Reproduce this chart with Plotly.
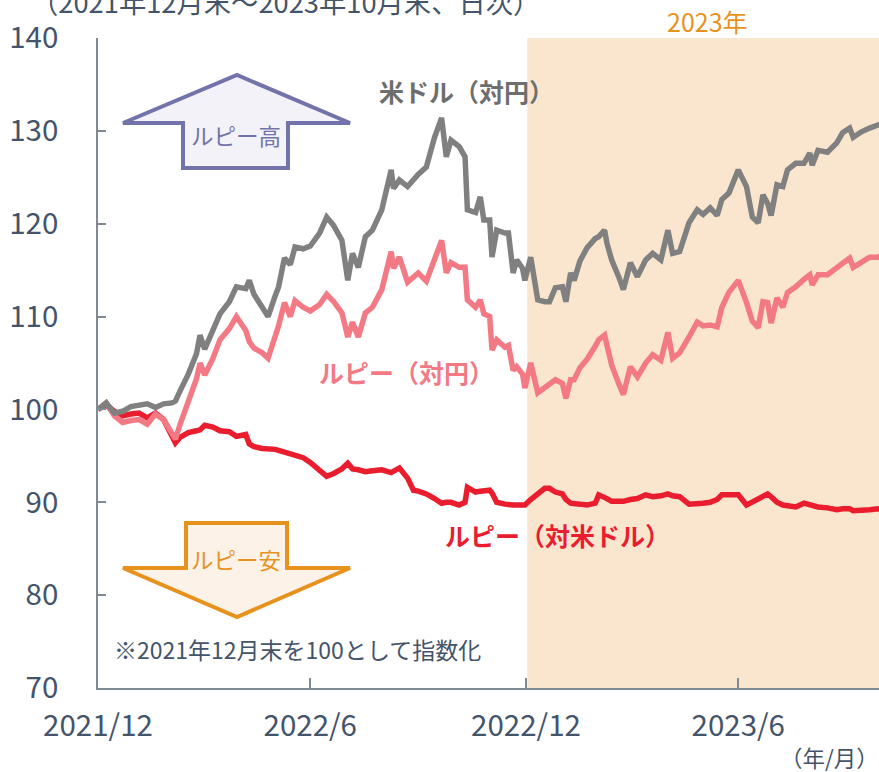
import plotly.graph_objects as go

dates = [
    "2021-12-31", "2022-01-07", "2022-01-14", "2022-01-21", "2022-01-28", "2022-02-04", "2022-02-11",
    "2022-02-18", "2022-02-25", "2022-03-04", "2022-03-07", "2022-03-11", "2022-03-18", "2022-03-25",
    "2022-03-28", "2022-04-01", "2022-04-08", "2022-04-14", "2022-04-22", "2022-04-28", "2022-05-06",
    "2022-05-09", "2022-05-13", "2022-05-20", "2022-05-25", "2022-05-31", "2022-06-03", "2022-06-08",
    "2022-06-13", "2022-06-17", "2022-06-24", "2022-06-30", "2022-07-08", "2022-07-14", "2022-07-20",
    "2022-07-27", "2022-08-01", "2022-08-05", "2022-08-10", "2022-08-16", "2022-08-22", "2022-08-30",
    "2022-09-07", "2022-09-09", "2022-09-14", "2022-09-21", "2022-09-26", "2022-09-30", "2022-10-07",
    "2022-10-14", "2022-10-20", "2022-10-24", "2022-10-28", "2022-11-04", "2022-11-09", "2022-11-11",
    "2022-11-18", "2022-11-22", "2022-11-25", "2022-11-30", "2022-12-02", "2022-12-06", "2022-12-13",
    "2022-12-16", "2022-12-20", "2022-12-23", "2022-12-28", "2022-12-30", "2023-01-04", "2023-01-10",
    "2023-01-16", "2023-01-20", "2023-01-25", "2023-01-31", "2023-02-03", "2023-02-07", "2023-02-10",
    "2023-02-15", "2023-02-21", "2023-02-28", "2023-03-03", "2023-03-08", "2023-03-10", "2023-03-14",
    "2023-03-20", "2023-03-24", "2023-03-30", "2023-04-05", "2023-04-12", "2023-04-18", "2023-04-25",
    "2023-05-01", "2023-05-05", "2023-05-11", "2023-05-19", "2023-05-26", "2023-05-31", "2023-06-06",
    "2023-06-12", "2023-06-16", "2023-06-22", "2023-06-27", "2023-06-30", "2023-07-07", "2023-07-12",
    "2023-07-17", "2023-07-21", "2023-07-25", "2023-07-28", "2023-08-02", "2023-08-07", "2023-08-11",
    "2023-08-18", "2023-08-25", "2023-08-30", "2023-09-01", "2023-09-06", "2023-09-14", "2023-09-22",
    "2023-09-27", "2023-10-03", "2023-10-06", "2023-10-13", "2023-10-20", "2023-10-27", "2023-10-31",
]

usd_jpy = [
    100.0, 100.7, 99.6, 99.8, 100.3, 100.5, 100.6, 100.2, 100.6, 100.7, 100.9, 102.0, 103.8, 106.0,
    108.0, 106.5, 108.6, 110.3, 111.6, 113.2, 113.0, 113.9, 112.4, 111.0, 110.0, 112.2, 113.2, 116.3,
    115.6, 117.5, 117.3, 117.6, 119.0, 120.7, 119.8, 118.2, 113.9, 116.8, 115.3, 118.6, 119.3, 121.5,
    125.8, 123.8, 124.7, 124.0, 124.8, 125.3, 126.1, 129.3, 131.4, 127.2, 129.0, 128.3, 127.2, 121.5,
    121.2, 122.9, 120.4, 120.4, 116.4, 119.3, 119.0, 119.0, 114.7, 116.1, 115.2, 113.9, 116.4, 111.8,
    111.6, 111.6, 113.1, 113.2, 111.6, 114.7, 113.9, 116.0, 117.4, 118.4, 118.6, 119.3, 117.9, 116.1,
    114.3, 112.9, 115.8, 114.3, 116.1, 116.8, 116.1, 119.3, 116.8, 117.0, 120.1, 121.5, 121.0, 121.7,
    120.9, 122.6, 123.3, 124.8, 125.8, 124.0, 120.7, 120.1, 123.1, 122.2, 120.9, 124.2, 124.0, 125.8,
    126.5, 126.5, 127.6, 126.3, 127.9, 127.7, 128.7, 129.8, 130.3, 129.3, 129.9, 130.3, 130.6, 130.8,
]

inr_jpy = [
    100.0, 100.7, 99.3, 98.6, 98.8, 98.9, 98.4, 99.5, 98.9, 97.5, 96.8, 98.4, 101.0, 103.3,
    105.0, 103.7, 105.5, 107.5, 108.7, 110.0, 108.5, 107.3, 106.6, 106.1, 105.5, 107.8, 109.0, 111.5,
    110.0, 111.7, 111.0, 110.6, 111.3, 112.4, 111.6, 110.4, 107.8, 109.4, 107.8, 110.4, 111.0, 112.9,
    117.0, 115.2, 116.4, 113.7, 114.2, 114.7, 113.8, 116.1, 118.2, 114.7, 115.8, 115.3, 115.3, 111.8,
    111.0, 111.8, 110.3, 110.0, 106.4, 107.5, 106.7, 106.9, 104.2, 104.6, 103.8, 102.3, 105.0, 101.8,
    102.4, 102.8, 103.2, 102.8, 101.2, 103.2, 103.2, 104.5, 105.4, 106.8, 107.5, 108.0, 106.8, 104.8,
    102.8, 101.6, 104.6, 103.5, 105.0, 105.9, 105.3, 108.3, 105.5, 106.1, 107.8, 109.4, 109.0, 109.1,
    108.9, 111.0, 112.6, 113.3, 113.9, 111.5, 109.5, 108.8, 111.6, 111.5, 109.3, 112.0, 111.0, 112.6,
    113.2, 114.0, 114.5, 113.4, 114.5, 114.5, 115.3, 115.8, 116.3, 115.3, 115.9, 116.4, 116.4, 116.6,
]

inr_usd = [
    100.0, 100.5, 99.8, 99.3, 99.5, 99.6, 99.1, 99.6, 98.9, 97.3, 96.4, 97.0, 97.5, 97.7,
    97.8, 98.3, 98.1, 97.7, 97.6, 97.1, 97.3, 96.3, 96.0, 95.8, 95.8, 95.7, 95.6, 95.4,
    95.2, 95.0, 94.8, 94.3, 93.5, 92.8, 93.1, 93.6, 94.2, 93.6, 93.5, 93.3, 93.4, 93.5,
    93.2, 93.3, 93.7, 92.6, 91.3, 91.2, 90.9, 90.4, 89.9, 90.0, 90.0, 89.7, 90.0, 91.6,
    91.1, 91.2, 91.2, 91.3, 91.0, 90.0, 89.8, 89.7, 89.7, 89.7, 89.8, 89.7, 90.3, 91.0,
    91.5, 91.5, 91.1, 90.9, 90.3, 89.9, 89.9, 89.8, 89.7, 89.9, 90.8, 90.6, 90.4, 90.1,
    90.1, 90.1, 90.3, 90.4, 90.8, 90.6, 90.7, 90.9, 90.7, 90.6, 89.8, 89.8, 89.9, 90.0,
    90.3, 90.8, 90.8, 90.8, 90.8, 89.7, 90.0, 90.3, 90.7, 90.9, 90.6, 90.0, 89.7, 89.6,
    89.5, 89.9, 89.7, 89.6, 89.5, 89.4, 89.2, 89.3, 89.3, 89.1, 89.1, 89.2, 89.3, 89.2,
]

x_tick_vals = ["2021-12-31", "2022-06-30", "2022-12-31", "2023-06-30"]
x_tick_text = ["2021/12", "2022/6", "2022/12", "2023/6"]
y_tick_vals = [70, 80, 90, 100, 110, 120, 130, 140]

FONT = "Noto Sans CJK JP"
TXT = "#44546A"
AX = "#7F8A94"

# plot area in pixels (for decorative shapes)
L, T, R, B = 98, 38, 879, 688


def px(x):
    return (x - L) / (R - L)


def py(y):
    return (B - y) / (B - T)


def path(points):
    return "M " + " L ".join(f"{px(a):.5f},{py(b):.5f}" for a, b in points) + " Z"


fig = go.Figure()

fig.add_vrect(x0="2023-01-01", x1="2023-10-31", fillcolor="#FAE6CF", line_width=0, layer="below")

fig.add_trace(go.Scatter(x=dates, y=inr_usd, mode="lines", line=dict(color="#EA1D2F", width=5.5),
                         name="ルピー（対米ドル）"))
fig.add_trace(go.Scatter(x=dates, y=inr_jpy, mode="lines", line=dict(color="#F37A85", width=5.5),
                         name="ルピー（対円）"))
fig.add_trace(go.Scatter(x=dates, y=usd_jpy, mode="lines", line=dict(color="#808080", width=5.5),
                         name="米ドル（対円）"))

# arrows
up = [(183, 168), (183, 123), (123, 123), (237, 75), (350, 123), (288, 123), (288, 168)]
down = [(186, 523), (287, 523), (287, 568), (350, 568), (237, 617), (123, 568), (186, 568)]
fig.add_shape(type="path", xref="paper", yref="paper", path=path(up),
              fillcolor="#F2F2F8", line=dict(color="#7373AB", width=4))
fig.add_shape(type="path", xref="paper", yref="paper", path=path(down),
              fillcolor="#FCF2E7", line=dict(color="#E8921E", width=4))


def label(text, x, y, size, color, bold=False, xanchor="center"):
    t = f"<b>{text}</b>" if bold else text
    fig.add_annotation(text=t, xref="paper", yref="paper", x=px(x), y=py(y), xanchor=xanchor,
                       yanchor="middle", showarrow=False, font=dict(family=FONT, size=size, color=color))


label("ルピー高", 236, 135, 22.5, "#7373AB")
label("ルピー安", 236, 559, 22.5, "#E8921E")
label("米ドル（対円）", 466, 91, 25, "#6E6E6E", bold=True)
label("ルピー（対円）", 406, 372, 25, "#F37A85", bold=True)
label("ルピー（対米ドル）", 557, 535, 25, "#EA1D2F", bold=True)
label("2023年", 707, 21, 25, "#E8921E")
label("※2021年12月末を100として指数化", 112, 649, 23, TXT, xanchor="left")
label("（2021年12月末～2023年10月末、日次）", 29, 1, 27.3, TXT, xanchor="left")
label("（年/月）", 881, 757, 22.5, TXT, xanchor="right")

fig.update_layout(
    width=879, height=772,
    margin=dict(l=L, r=879 - R, t=T, b=772 - B),
    paper_bgcolor="white", plot_bgcolor="white",
    showlegend=False,
    font=dict(family=FONT, color=TXT),
)
fig.update_xaxes(
    type="date", range=["2021-12-31", "2023-10-28"],
    tickmode="array", tickvals=x_tick_vals, ticktext=x_tick_text,
    ticks="inside", ticklen=10, tickwidth=1.5, tickcolor=AX,
    showline=True, linecolor=AX, linewidth=1.5,
    showgrid=False, zeroline=False,
    tickfont=dict(family=FONT, size=29.5, color=TXT),
    ticklabelstandoff=11,
)
fig.update_yaxes(
    range=[70, 140], tickmode="array", tickvals=y_tick_vals,
    ticks="inside", ticklen=8, tickwidth=1.5, tickcolor=AX,
    showline=True, linecolor=AX, linewidth=1.5,
    showgrid=False, zeroline=False,
    tickfont=dict(family=FONT, size=29.5, color=TXT),
    ticklabelstandoff=32,
)

fig.write_html("out.html", config={"displayModeBar": False},
               post_script="document.body.style.margin='0';document.body.style.overflow='hidden';")
